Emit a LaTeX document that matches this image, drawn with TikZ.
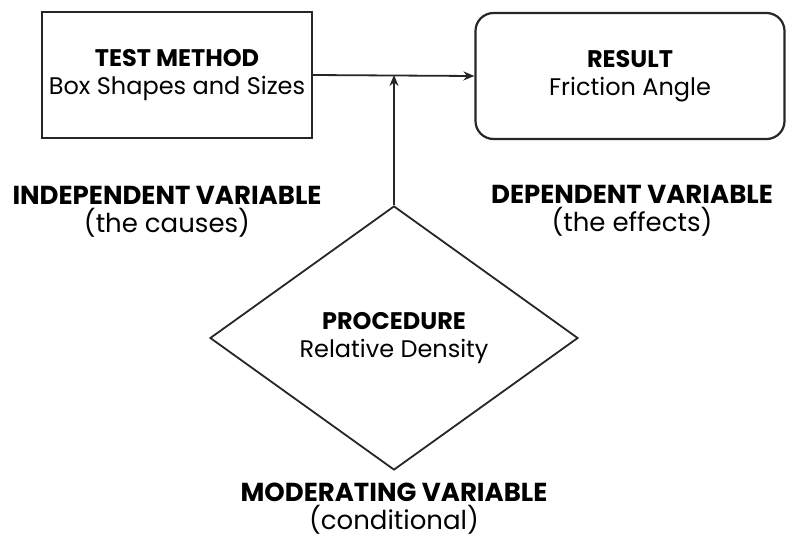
\documentclass[tikz,border=0pt]{standalone}
\usepackage{fontspec}
\setmainfont{Poppins}
\usetikzlibrary{positioning,shapes.geometric,arrows.meta}

\begin{document}
\begin{tikzpicture}[x=1pt, y=-1pt,
        node distance=40pt,
        box/.style={
            rectangle,
            draw=black!85, line width=2.2pt,
            minimum width=270pt,
            minimum height=126pt,
            align=center,
            font=\fontsize{24}{28}\selectfont},
        roundbox/.style={
            box,
            rounded corners=18pt,
            minimum width=309pt},
        decision/.style={
            diamond,
            draw=black!85, line width=1.8pt,
            inner sep=0pt,
            aspect=1.39,
            minimum width=368pt,
            minimum height=264pt,
            align=center,
            font=\fontsize{24}{28}\selectfont},
        caption/.style={
            align=center,
            inner sep=0pt,
            font=\fontsize{26}{28}\selectfont},
        arrow/.style={
            line width=1.8pt,
            draw=black!85,
            -{Stealth[length=11pt,width=9pt]}}
        ]

        \useasboundingbox (0,0) rectangle (787,542);

        \node (method) [box] at (177,75) {\textbf{TEST METHOD}\\Box Shapes and Sizes};
        \node (result) [roundbox] at (630,76) {\textbf{RESULT}\\Friction Angle};
        \node (proc) [decision] at (394,338) {\textbf{PROCEDURE}\\Relative Density};

        \node (indep) [caption, below=47pt of method, xshift=-10pt] {\textbf{INDEPENDENT VARIABLE}\\(the causes)};
        \node (dep) [caption, below=45pt of result, xshift=2pt] {\textbf{DEPENDENT VARIABLE}\\(the effects)};
        \node (moder) [caption, below=12pt of proc] {\textbf{MODERATING VARIABLE}\\(conditional)};

        \coordinate (join) at (proc.north |- method.east);

        \draw [arrow] (method.east) -- (result.west);
        \draw [arrow] (proc.north) -- (join);

\end{tikzpicture}
\end{document}
